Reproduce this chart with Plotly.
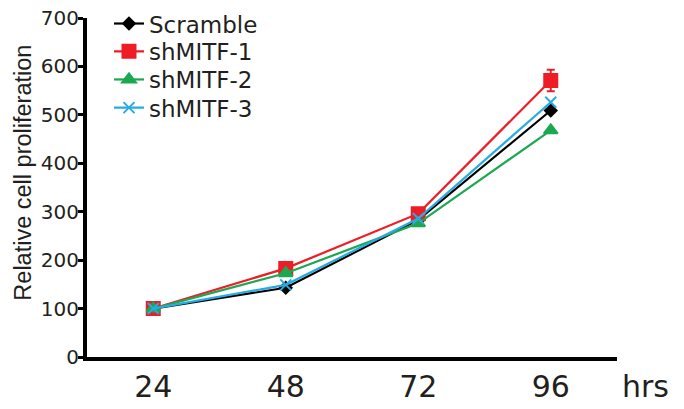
import plotly.graph_objects as go

hours = [24, 48, 72, 96]
x_tick_labels = ["24", "48", "72", "96"]
scramble = [100, 143, 283, 509]
shmitf1 = [100, 183, 296, 571]
shmitf2 = [100, 173, 276, 468]
shmitf3 = [100, 149, 286, 526]
shmitf1_err = [0, 0, 0, 22]
y_ticks = [0, 100, 200, 300, 400, 500, 600, 700]

series = [
    ("Scramble", scramble, "#000000", "diamond", 9, None),
    ("shMITF-1", shmitf1, "#ee1c25", "square", 13, shmitf1_err),
    ("shMITF-2", shmitf2, "#1ba850", "triangle-up", 12, None),
    ("shMITF-3", shmitf3, "#29abe2", "x-thin", 11, None),
]

WIDE = "DejaVu Sans, Verdana, sans-serif"
TXT = "#231f20"
legend_ids = ["legend", "legend2", "legend3", "legend4"]
legend_y = [1.047, 0.965, 0.882, 0.799]

fig = go.Figure()
for (name, vals, col, sym, sz, err), lid in zip(series, legend_ids):
    tr = dict(
        x=hours, y=vals, name=name, mode="lines+markers", legend=lid,
        line=dict(color=col, width=2.2),
        marker=dict(symbol=sym, size=sz, color=col, line=dict(color=col, width=2)),
    )
    if err is not None:
        tr["error_y"] = dict(type="data", array=err, visible=True, color=col, thickness=2, width=4)
    fig.add_trace(go.Scatter(**tr))

legend_layout = {}
for lid, ly in zip(legend_ids, legend_y):
    legend_layout[lid] = dict(
        x=0.0415, y=ly, xanchor="left", yanchor="top",
        font=dict(size=23, color=TXT, family=WIDE),
        bgcolor="rgba(0,0,0,0)", itemwidth=30,
    )

fig.update_layout(
    width=684, height=409,
    paper_bgcolor="white", plot_bgcolor="white",
    margin=dict(l=87, r=67, t=18, b=52, autoexpand=False),
    font=dict(family=WIDE, color=TXT),
    showlegend=True,
    xaxis=dict(
        range=[12, 108], tickmode="array", tickvals=hours, ticktext=x_tick_labels,
        showgrid=False, zeroline=False, showline=True, linecolor="black", linewidth=4,
        ticks="", tickfont=dict(size=30, color=TXT, family=WIDE),
    ),
    yaxis=dict(
        range=[0, 700], tickmode="array", tickvals=y_ticks,
        showgrid=False, zeroline=False, showline=True, linecolor="black", linewidth=4,
        ticks="outside", ticklen=5, tickwidth=3, tickcolor="black",
        ticklabelstandoff=-5,
        tickfont=dict(size=20, color=TXT, family=WIDE),
    ),
    annotations=[
        dict(text="Relative cell proliferation", xref="paper", yref="paper",
             x=-0.12, y=0.545, xanchor="center", yanchor="middle", textangle=-90,
             showarrow=False, font=dict(size=23.5, color=TXT, family="Liberation Sans, Arial, sans-serif")),
        dict(text="hrs", xref="paper", yref="paper",
             x=1.005, y=-0.087, xanchor="left", yanchor="middle",
             showarrow=False, font=dict(size=30, color=TXT, family=WIDE)),
    ],
    **legend_layout,
)

fig.write_html(
    "out.html",
    config={"displayModeBar": False},
    post_script="document.body.style.margin='0';document.body.style.padding='0';",
)
